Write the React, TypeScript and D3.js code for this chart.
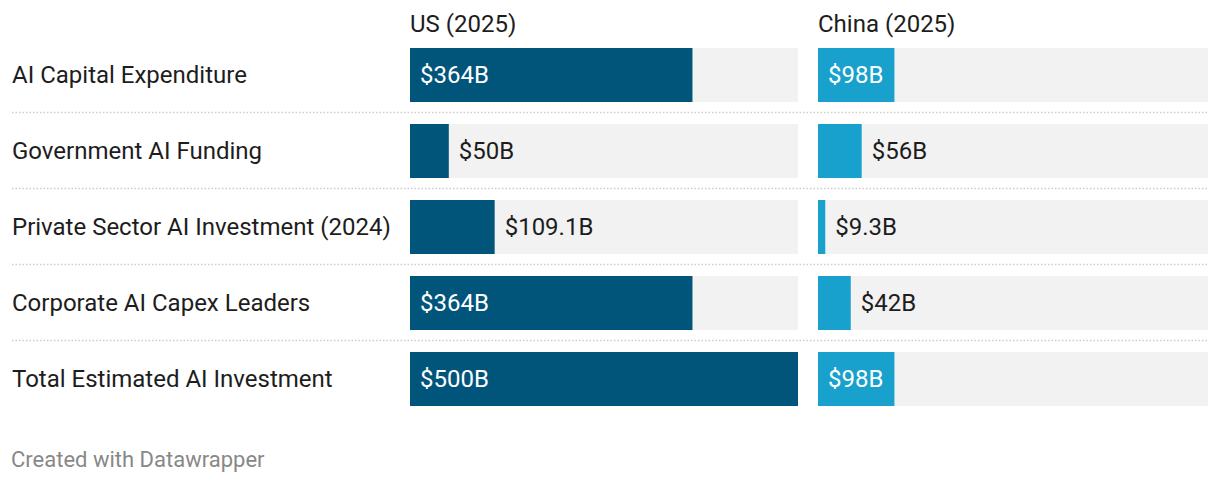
import { useRef, useEffect } from 'react';
import * as d3 from 'd3';

const categories = [
  'AI Capital Expenditure',
  'Government AI Funding',
  'Private Sector AI Investment (2024)',
  'Corporate AI Capex Leaders',
  'Total Estimated AI Investment',
];
const usValues = [364, 50, 109.1, 364, 500];
const chinaValues = [98, 56, 9.3, 42, 98];
const columnTitles = ['US (2025)', 'China (2025)'];
const valueMax = 500;

const fmt = (v: number) => `$${v}B`;

export default function App() {
  const svgRef = useRef<SVGSVGElement>(null);
  const width = 1220;
  const height = 482;

  useEffect(() => {
    const svg = d3.select(svgRef.current);
    svg.selectAll('*').remove();
    const font = 'Roboto, sans-serif';
    const fs = 24;

    const y = d3.scaleBand<string>().domain(categories).range([48, 406])
      .paddingInner(22 / 76).paddingOuter(0);

    const columns = [
      { title: columnTitles[0], values: usValues, x0: 410, x1: 798, color: '#01557b' },
      { title: columnTitles[1], values: chinaValues, x0: 818, x1: 1208, color: '#18a1cd' },
    ];

    // dotted row separators
    categories.slice(0, -1).forEach((c, i) => {
      const yy = ((y(c) as number) + y.bandwidth() + (y(categories[i + 1]) as number)) / 2 - 0.5;
      svg.append('line')
        .attr('x1', 12).attr('x2', 1208).attr('y1', yy).attr('y2', yy)
        .attr('stroke', '#cccccc').attr('stroke-width', 1.5)
        .attr('stroke-dasharray', '1.5,2');
    });

    // row labels
    categories.forEach(c => {
      svg.append('text')
        .attr('x', 12).attr('y', (y(c) as number) + y.bandwidth() / 2 - 0.5)
        .attr('dy', '0.35em')
        .attr('font-family', font).attr('font-size', fs).attr('fill', '#1d1d1d')
        .text(c);
    });

    columns.forEach(col => {
      const x = d3.scaleLinear().domain([0, valueMax]).range([col.x0, col.x1]);
      svg.append('text')
        .attr('x', col.x0).attr('y', 32)
        .attr('font-family', font).attr('font-size', fs).attr('fill', '#1d1d1d')
        .text(col.title);

      categories.forEach((c, i) => {
        const v = col.values[i];
        const top = y(c) as number;
        svg.append('rect')
          .attr('x', x(0)).attr('y', top).attr('width', x(valueMax) - x(0)).attr('height', y.bandwidth())
          .attr('fill', '#f2f2f2');
        svg.append('rect')
          .attr('x', x(0)).attr('y', top).attr('width', x(v) - x(0)).attr('height', y.bandwidth())
          .attr('fill', col.color);
        const label = svg.append('text')
          .attr('y', top + y.bandwidth() / 2 - 0.5).attr('dy', '0.35em')
          .attr('font-family', font).attr('font-size', fs)
          .text(fmt(v));
        const tw = (label.node() as SVGTextElement).getComputedTextLength();
        const inside = tw + 20 <= x(v) - x(0);
        label
          .attr('x', inside ? x(0) + 10 : x(v) + 10)
          .attr('fill', inside ? '#ffffff' : '#1d1d1d');
      });
    });

    svg.append('text')
      .attr('x', 11).attr('y', 467)
      .attr('font-family', font).attr('font-size', 22).attr('fill', '#888888')
      .text('Created with Datawrapper');
  }, []);

  return (
    <div style={{ position: 'absolute', left: 0, top: 0, background: '#fff' }}>
      <svg ref={svgRef} width={width} height={height} style={{ display: 'block' }} />
    </div>
  );
}
